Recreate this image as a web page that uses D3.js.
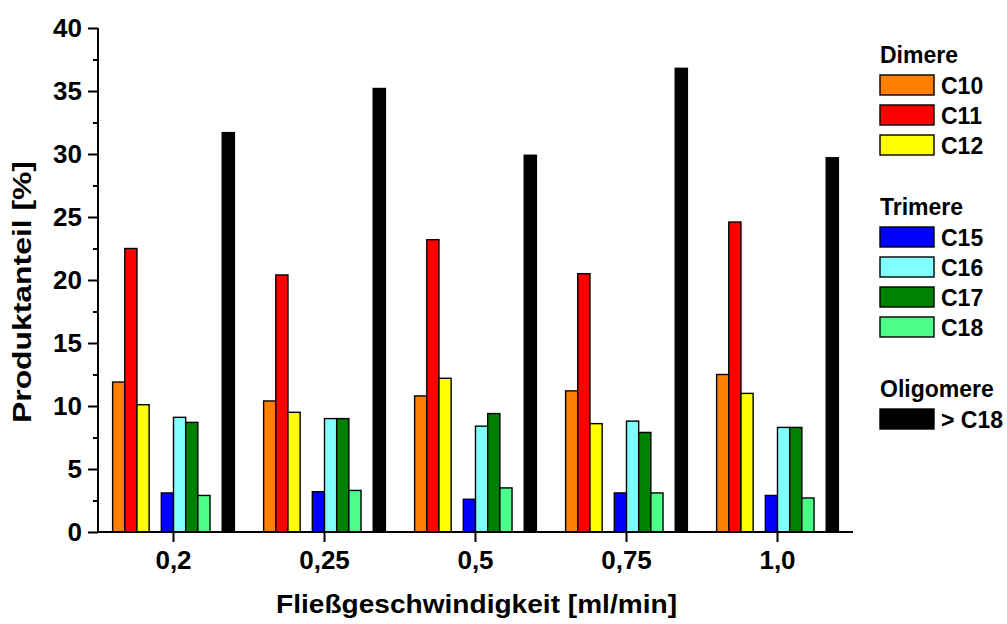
<!DOCTYPE html>
<html>
<head>
<meta charset="utf-8">
<script src="https://cdn.jsdelivr.net/npm/d3@7"></script>
<style>
  html, body { margin: 0; padding: 0; background: #fff; }
  svg { display: block; font-family: "Liberation Sans", Arial, sans-serif; font-weight: bold; }
</style>
</head>
<body>
<svg id="chart" width="1007" height="624"></svg>
<script>
// ---- data ----
const categories = ["0,2", "0,25", "0,5", "0,75", "1,0"];
const C10 = [11.9, 10.4, 10.8, 11.2, 12.5];
const C11 = [22.5, 20.4, 23.2, 20.5, 24.6];
const C12 = [10.1, 9.5, 12.2, 8.6, 11.0];
const C15 = [3.1, 3.2, 2.6, 3.1, 2.9];
const C16 = [9.1, 9.0, 8.4, 8.8, 8.3];
const C17 = [8.7, 9.0, 9.4, 7.9, 8.3];
const C18 = [2.9, 3.3, 3.5, 3.1, 2.7];
const GT18 = [31.7, 35.2, 29.9, 36.8, 29.7];
const yTicks = [0, 5, 10, 15, 20, 25, 30, 35, 40];
const yMinorTicks = [2.5, 7.5, 12.5, 17.5, 22.5, 27.5, 32.5, 37.5];

const seriesNames = ["C10", "C11", "C12", "C15", "C16", "C17", "C18", "> C18"];
const seriesValues = [C10, C11, C12, C15, C16, C17, C18, GT18];
const seriesColors = ["#FF8000", "#FF0000", "#FFFF00", "#0000FF", "#80FFFF", "#008000", "#4CFF88", "#000000"];
const slots = ["C10", "C11", "C12", "gap1", "C15", "C16", "C17", "C18", "gap2", "> C18"];
const legendGroups = [
  { title: "Dimere", items: ["C10", "C11", "C12"] },
  { title: "Trimere", items: ["C15", "C16", "C17", "C18"] },
  { title: "Oligomere", items: ["> C18"] }
];

// ---- layout ----
const margin = { left: 98, top: 28 };
const W = 755, H = 504;
const svg = d3.select("#chart");
const g = svg.append("g").attr("transform", `translate(${margin.left},${margin.top})`);

const x = d3.scaleBand().domain(categories).range([0, W]).padding(0);
const xi = d3.scaleBand().domain(slots).range([0, x.bandwidth()]).paddingInner(0).paddingOuter(1.2);
const y = d3.scaleLinear().domain([0, 40]).range([H, 0]);

const bars = [];
seriesNames.forEach((s, si) => {
  categories.forEach((c, ci) => {
    bars.push({ s, c, v: seriesValues[si][ci], color: seriesColors[si] });
  });
});

g.selectAll("rect.bar").data(bars).enter().append("rect")
  .attr("class", "bar")
  .attr("x", d => x(d.c) + xi(d.s))
  .attr("y", d => y(d.v))
  .attr("width", xi.bandwidth())
  .attr("height", d => y(0) - y(d.v))
  .attr("fill", d => d.color)
  .attr("stroke", "#000")
  .attr("stroke-width", 1.4);

// ---- axes ----
const yAxis = d3.axisLeft(y).tickValues(yTicks).tickSize(10).tickPadding(6).tickFormat(d3.format("d"));
const yMinor = d3.axisLeft(y).tickValues(yMinorTicks).tickSize(5).tickFormat("");
const xAxis = d3.axisBottom(x).tickSize(10).tickPadding(9);

const ga = g.append("g").call(yAxis);
g.append("g").call(yMinor).select(".domain").remove();
const gx = g.append("g").attr("transform", `translate(0,${H})`).call(xAxis);

[ga, gx].forEach(a => {
  a.select(".domain").attr("stroke", "#000").attr("stroke-width", 2).attr("d",
    a === ga ? `M0,${H}V0` : `M0,0H${W}`);
  a.selectAll("text").attr("font-size", 26).attr("font-weight", "bold").attr("fill", "#000")
    .attr("font-family", '"Liberation Sans", Arial, sans-serif');
});
g.selectAll(".tick line").attr("stroke", "#000").attr("stroke-width", 2);

// axis titles
svg.append("text")
  .attr("x", margin.left + W / 2 + 1)
  .attr("y", 613)
  .attr("text-anchor", "middle")
  .attr("font-size", 25)
  .attr("textLength", 401)
  .attr("lengthAdjust", "spacingAndGlyphs")
  .text("Fließgeschwindigkeit [ml/min]");

svg.append("text")
  .attr("transform", `translate(31,292) rotate(-90)`)
  .attr("text-anchor", "middle")
  .attr("font-size", 25)
  .attr("textLength", 262)
  .attr("lengthAdjust", "spacingAndGlyphs")
  .text("Produktanteil [%]");

// ---- legend ----
const leg = svg.append("g").attr("transform", "translate(880,0)");
const colorOf = n => seriesColors[seriesNames.indexOf(n)];
let yy = 63;
legendGroups.forEach(grp => {
  leg.append("text").attr("x", 0).attr("y", yy).attr("font-size", 23).text(grp.title);
  let sy = yy + 12;
  grp.items.forEach(it => {
    leg.append("rect").attr("x", 0).attr("y", sy).attr("width", 54).attr("height", 20)
      .attr("fill", colorOf(it)).attr("stroke", "#000").attr("stroke-width", 1.4);
    leg.append("text").attr("x", 61).attr("y", sy + 19).attr("font-size", 23).text(it);
    sy += 30;
  });
  yy = sy + 50;
});
</script>
</body>
</html>
